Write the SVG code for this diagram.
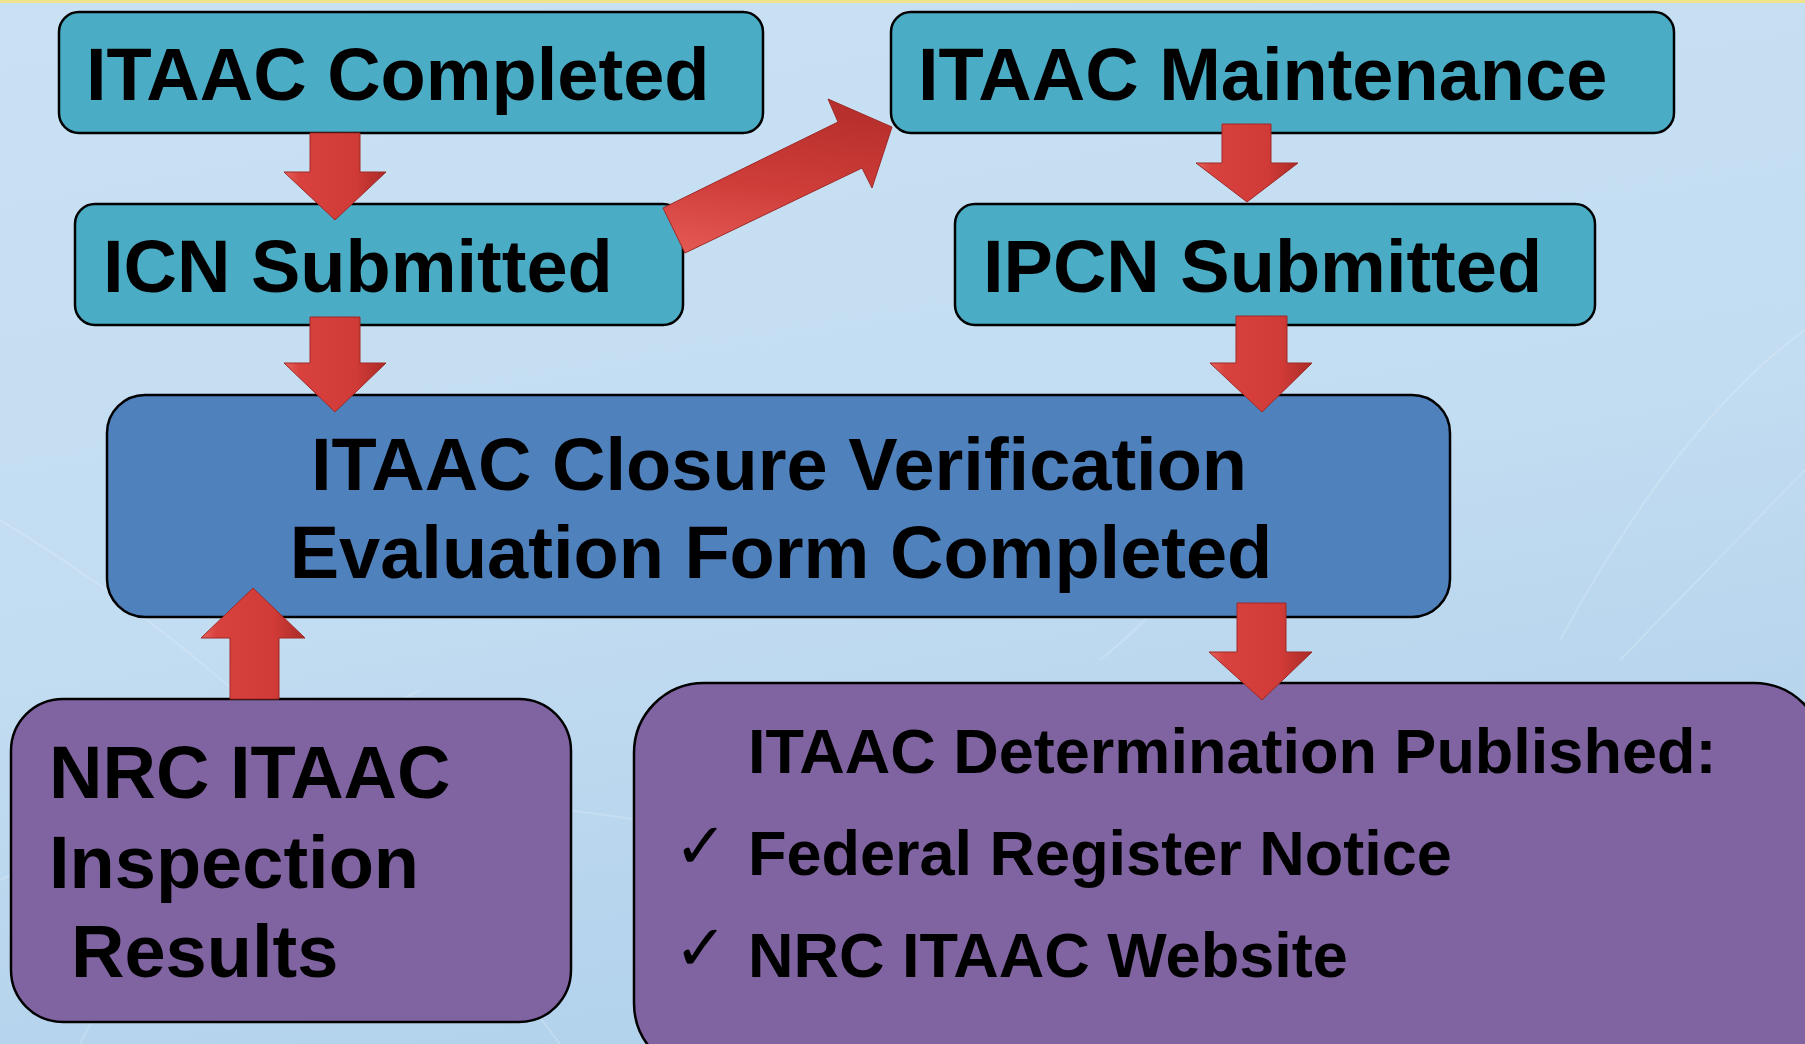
<svg xmlns="http://www.w3.org/2000/svg" width="1805" height="1044" viewBox="0 0 1805 1044">
<defs>
<linearGradient id="bg" x1="0" y1="0" x2="0.3" y2="1">
<stop offset="0" stop-color="#CAE1F3"/>
<stop offset="0.6" stop-color="#C2DCF1"/>
<stop offset="1" stop-color="#B3D2EC"/>
</linearGradient>
<linearGradient id="redV" x1="0" y1="0" x2="1" y2="0">
<stop offset="0" stop-color="#E8625C"/>
<stop offset="0.15" stop-color="#D8413D"/>
<stop offset="0.7" stop-color="#D13B37"/>
<stop offset="1" stop-color="#A92B28"/>
</linearGradient>
<linearGradient id="redD" x1="0" y1="1" x2="0.2" y2="0">
<stop offset="0" stop-color="#E55A55"/>
<stop offset="0.5" stop-color="#CF3D39"/>
<stop offset="1" stop-color="#B8302D"/>
</linearGradient>
<style>
.cy{fill:#4BACC6;stroke:#000;stroke-width:2.5}
.bl{fill:#4F81BD;stroke:#000;stroke-width:2.5}
.pu{fill:#8064A2;stroke:#000;stroke-width:2.5}
.t{font-family:"Liberation Sans",Arial,sans-serif;font-weight:bold;fill:#000}
.big{font-size:74px}
.mid{font-size:63px}
.chk{font-family:"DejaVu Sans","Noto Sans",sans-serif;font-size:64px;fill:#000}
.arr{fill:url(#redV);stroke:#9E2A27;stroke-width:1}
.bg-line{fill:none;stroke:#FFFFFF;stroke-opacity:0.18;stroke-width:2}
</style>
</defs>

<rect x="0" y="0" width="1805" height="1044" fill="url(#bg)"/>
<rect x="0" y="0" width="1805" height="3" fill="#F1E38C"/>
<g id="background-lines">
<path class="bg-line" d="M0 520 Q 300 700 560 1044"/>
<path class="bg-line" d="M80 1044 Q 200 800 420 690"/>
<path class="bg-line" d="M0 880 Q 250 760 640 820"/>
<path class="bg-line" d="M1560 640 Q 1680 420 1805 330"/>
<path class="bg-line" d="M1620 660 L 1805 470"/>
<path class="bg-line" d="M1100 660 Q 1150 620 1200 560"/>
</g>

<g id="itaac-completed">
<rect class="cy" x="59" y="12" width="704" height="121" rx="20"/>
<text class="t big" x="86" y="100">ITAAC Completed</text>
</g>

<g id="itaac-maintenance">
<rect class="cy" x="891" y="12" width="783" height="121" rx="20"/>
<text class="t big" x="918" y="100">ITAAC Maintenance</text>
</g>

<g id="icn-submitted">
<rect class="cy" x="75" y="204" width="608" height="121" rx="20"/>
<text class="t big" x="103" y="292">ICN Submitted</text>
</g>

<g id="ipcn-submitted">
<rect class="cy" x="955" y="204" width="640" height="121" rx="20"/>
<text class="t big" x="983" y="292">IPCN Submitted</text>
</g>

<g id="closure-verification">
<rect class="bl" x="107" y="395" width="1343" height="222" rx="38"/>
<text class="t big" x="779" y="490" text-anchor="middle">ITAAC Closure Verification</text>
<text class="t big" x="781" y="578" text-anchor="middle">Evaluation Form Completed</text>
</g>

<g id="nrc-inspection">
<rect class="pu" x="11" y="699" width="560" height="323" rx="52"/>
<text class="t big" x="49" y="798">NRC ITAAC</text>
<text class="t big" x="49" y="888">Inspection</text>
<text class="t big" x="71" y="977">Results</text>
</g>

<g id="determination-published">
<rect class="pu" x="634" y="683" width="1190" height="390" rx="70"/>
<text class="t mid" x="748" y="773">ITAAC Determination Published:</text>
<text class="chk" x="674" y="868">✓</text>
<text class="t mid" x="748" y="875">Federal Register Notice</text>
<text class="chk" x="674" y="970">✓</text>
<text class="t mid" x="748" y="977">NRC ITAAC Website</text>
</g>

<g id="connectors">
<polygon class="arr" points="310,133 360,133 360,172 386,172 335,220 284,172 310,172"/>
<polygon class="arr" points="310,317 360,317 360,363 386,363 335,412 284,363 310,363"/>
<polygon class="arr" points="1222,124 1271,124 1271,163 1298,163 1247,202 1196,163 1222,163"/>
<polygon class="arr" points="1236,316 1287,316 1287,363 1312,363 1262,412 1210,363 1236,363"/>
<polygon class="arr" points="1237,603 1286,603 1286,652 1312,652 1262,700 1209,652 1237,652"/>
<polygon class="arr" points="230,699 279,699 279,638 305,638 253,588 201,638 230,638"/>
<polygon fill="url(#redD)" stroke="#9E2A27" stroke-width="1" points="663,208 838,122 828,99 892,127 872,188 862,168 685,253"/>
</g>
</svg>
